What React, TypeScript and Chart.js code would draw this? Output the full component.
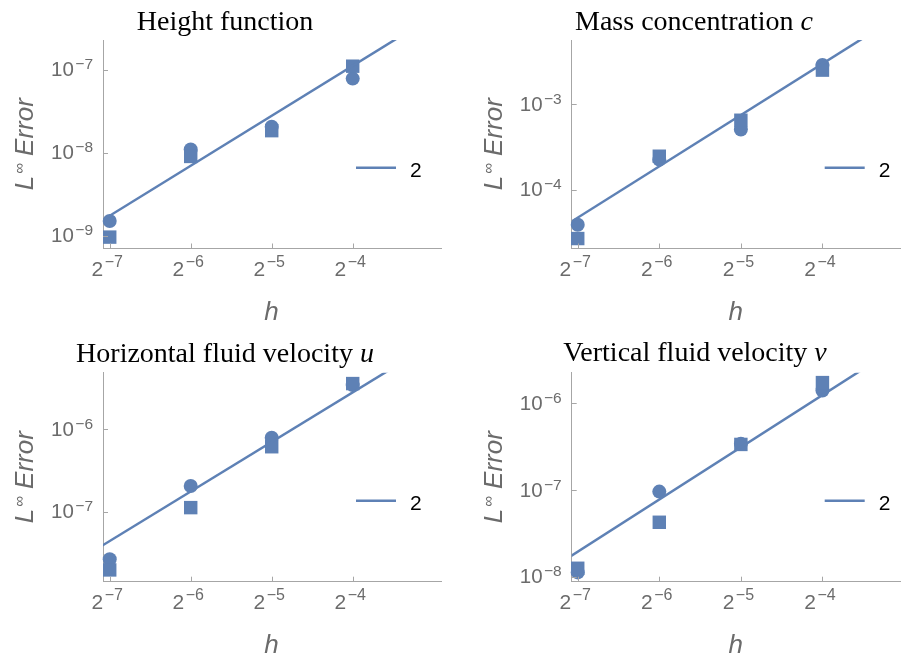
import React, { useEffect, useRef } from "react";
import { Chart, registerables } from "chart.js";

Chart.register(...registerables);

// ---------------- data ----------------
const H_VALUES = [0.0078125, 0.015625, 0.03125, 0.0625]; // h = 2^-7 .. 2^-4
const X_TICK_EXPONENTS = [-7, -6, -5, -4];
const FIT_LINE_H = [0.00729, 0.125];
const LEGEND_LABEL = "2";
const Y_LABEL_MAIN = "L";
const Y_LABEL_SUP = "\u221E";
const Y_LABEL_REST = " Error";
const X_LABEL = "h";

const TITLES = ["Height function", "Mass concentration ", "Horizontal fluid velocity ", "Vertical fluid velocity "];
const TITLE_VARS = ["", "c", "u", "v"];

const HEIGHT_CIRCLES = [1.5e-9, 1.09e-8, 2.05e-8, 7.8e-8];
const HEIGHT_SQUARES = [9.6e-10, 9.0e-9, 1.84e-8, 1.1e-7];
const HEIGHT_LINE = [1.514e-9, 4.45e-7];
const HEIGHT_Y_TICKS = [-9, -8, -7];

const MASS_CIRCLES = [3.87e-5, 2.25e-4, 5.08e-4, 2.9e-3];
const MASS_SQUARES = [2.67e-5, 2.47e-4, 6.53e-4, 2.53e-3];
const MASS_LINE = [4.09e-5, 1.203e-2];
const MASS_Y_TICKS = [-4, -3];

const HORIZ_CIRCLES = [2.64e-8, 2.05e-7, 7.9e-7, 3.45e-6];
const HORIZ_SQUARES = [1.96e-8, 1.12e-7, 6.15e-7, 3.6e-6];
const HORIZ_LINE = [3.83e-8, 1.125e-5];
const HORIZ_Y_TICKS = [-7, -6];

const VERT_CIRCLES = [1.12e-8, 9.57e-8, 3.4e-7, 1.4e-6];
const VERT_SQUARES = [1.25e-8, 4.24e-8, 3.35e-7, 1.73e-6];
const VERT_LINE = [1.69e-8, 4.97e-6];
const VERT_Y_TICKS = [-8, -7, -6];

const CIRCLES = [HEIGHT_CIRCLES, MASS_CIRCLES, HORIZ_CIRCLES, VERT_CIRCLES];
const SQUARES = [HEIGHT_SQUARES, MASS_SQUARES, HORIZ_SQUARES, VERT_SQUARES];
const LINES = [HEIGHT_LINE, MASS_LINE, HORIZ_LINE, VERT_LINE];
const Y_TICKS = [HEIGHT_Y_TICKS, MASS_Y_TICKS, HORIZ_Y_TICKS, VERT_Y_TICKS];

const X_RANGES = [
  [0.007376, 0.13305],
  [0.007422, 0.12184],
  [0.007376, 0.13305],
  [0.007422, 0.12184],
];
const Y_RANGES = [
  [7.31e-10, 2.275e-7],
  [2.04e-5, 5.71e-3],
  [1.41e-8, 4.88e-6],
  [8.75e-9, 2.25e-6],
];

// ---------------- layout & style ----------------
const LAYOUT = [
  { left: 0, top: 0, width: 450, height: 327, area: { l: 103, t: 40, r: 441, b: 248.5 }, titleX: 225, titleY: 30 },
  { left: 450, top: 0, width: 451, height: 327, area: { l: 121.7, t: 40, r: 451, b: 248.5 }, titleX: 244, titleY: 29.5 },
  { left: 0, top: 327, width: 450, height: 327, area: { l: 103, t: 45.7, r: 441, b: 254.7 }, titleX: 225, titleY: 34.5 },
  { left: 450, top: 327, width: 451, height: 327, area: { l: 121.7, t: 45.7, r: 451, b: 254.7 }, titleX: 245, titleY: 33.7 },
];

const BLUE = "#5E81B5";
const AXIS_COLOR = "#a6a6a6";
const LABEL_COLOR = "#6b6b6b";
const SANS = "'Liberation Sans', Arial, sans-serif";
const SERIF = "'Liberation Serif', 'Times New Roman', serif";

function drawPower(
  ctx: CanvasRenderingContext2D,
  base: string,
  exp: string,
  x: number,
  y: number,
  align: "center" | "right",
  raise: number,
  baseSize: number,
  expSize: number
) {
  const gap = 1.5;
  ctx.font = `${baseSize}px ${SANS}`;
  const bw = ctx.measureText(base).width;
  ctx.font = `${expSize}px ${SANS}`;
  const ew = ctx.measureText(exp).width;
  const total = bw + gap + ew;
  const start = align === "right" ? x - total : x - total / 2;
  ctx.textAlign = "left";
  ctx.textBaseline = "alphabetic";
  ctx.font = `${baseSize}px ${SANS}`;
  ctx.fillText(base, start, y);
  ctx.font = `${expSize}px ${SANS}`;
  ctx.fillText(exp, start + bw + gap, y - raise);
}

function expText(e: number) {
  return (e < 0 ? "\u2212" : "") + Math.abs(e);
}

function Panel({ index }: { index: number }) {
  const ref = useRef<HTMLCanvasElement | null>(null);
  const lay = LAYOUT[index];

  useEffect(() => {
    const canvas = ref.current;
    if (!canvas) return;

    const decor = {
      id: "decor" + index,
      afterDraw(chart: any) {
        const ctx: CanvasRenderingContext2D = chart.ctx;
        const ca = chart.chartArea;
        const xs = chart.scales.x;
        const ys = chart.scales.y;
        ctx.save();

        // inward ticks
        ctx.strokeStyle = AXIS_COLOR;
        ctx.lineWidth = 1;
        ctx.beginPath();
        H_VALUES.forEach((h) => {
          const px = Math.round(xs.getPixelForValue(h)) + 0.5;
          ctx.moveTo(px, ca.bottom);
          ctx.lineTo(px, ca.bottom - 5);
        });
        Y_TICKS[index].forEach((e) => {
          const py = Math.round(ys.getPixelForValue(Math.pow(10, e))) + 0.5;
          ctx.moveTo(ca.left, py);
          ctx.lineTo(ca.left + 5, py);
        });
        ctx.stroke();

        // tick labels
        ctx.fillStyle = LABEL_COLOR;
        H_VALUES.forEach((h, i) => {
          const px = xs.getPixelForValue(h);
          drawPower(ctx, "2", expText(X_TICK_EXPONENTS[i]), px - 2.5, ca.bottom + 27, "center", 8.3, 21, 16);
        });
        Y_TICKS[index].forEach((e) => {
          const py = ys.getPixelForValue(Math.pow(10, e));
          drawPower(ctx, "10", expText(e), ca.left - 10, py + 6.8, "right", 7, 20.5, 15.5);
        });

        // x axis label
        ctx.font = `italic 26px ${SANS}`;
        ctx.textAlign = "center";
        ctx.fillText(X_LABEL, (ca.left + ca.right) / 2 - 0.5, ca.bottom + 71);

        // y axis label (rotated)
        ctx.save();
        ctx.translate(ca.left - 70, (ca.top + ca.bottom) / 2);
        ctx.rotate(-Math.PI / 2);
        ctx.textAlign = "left";
        ctx.font = `italic 26px ${SANS}`;
        const wL = ctx.measureText(Y_LABEL_MAIN).width;
        const wR = ctx.measureText(Y_LABEL_REST).width;
        ctx.font = `15px ${SANS}`;
        const wS = ctx.measureText(Y_LABEL_SUP).width;
        const tot = wL + 2 + wS + wR;
        let sx = -tot / 2;
        ctx.font = `italic 26px ${SANS}`;
        ctx.fillText(Y_LABEL_MAIN, sx, 0);
        sx += wL + 2;
        ctx.font = `15px ${SANS}`;
        ctx.fillText(Y_LABEL_SUP, sx, -9);
        sx += wS;
        ctx.font = `italic 26px ${SANS}`;
        ctx.fillText(Y_LABEL_REST, sx, 0);
        ctx.restore();

        // legend
        const lx = ca.left + 253;
        const ly = (ca.top + ca.bottom) / 2 + 23.5;
        ctx.strokeStyle = BLUE;
        ctx.lineWidth = 2.5;
        ctx.beginPath();
        ctx.moveTo(lx, ly);
        ctx.lineTo(lx + 40, ly);
        ctx.stroke();
        ctx.fillStyle = "#000";
        ctx.font = `21px ${SANS}`;
        ctx.textAlign = "left";
        ctx.fillText(LEGEND_LABEL, lx + 54, ly + 9.2);

        // title
        ctx.fillStyle = "#000";
        ctx.font = `28px ${SERIF}`;
        const t1 = TITLES[index];
        const w1 = ctx.measureText(t1).width;
        ctx.font = `italic 28px ${SERIF}`;
        const t2 = TITLE_VARS[index];
        const w2 = t2 ? ctx.measureText(t2).width : 0;
        const tx = lay.titleX - (w1 + w2) / 2;
        ctx.textAlign = "left";
        ctx.font = `28px ${SERIF}`;
        ctx.fillText(t1, tx, lay.titleY);
        if (t2) {
          ctx.font = `italic 28px ${SERIF}`;
          ctx.fillText(t2, tx + w1, lay.titleY);
        }
        ctx.restore();
      },
    };

    const chart = new Chart(canvas, {
      type: "scatter",
      data: {
        datasets: [
          {
            type: "line",
            data: FIT_LINE_H.map((h, i) => ({ x: h, y: LINES[index][i] })),
            borderColor: BLUE,
            borderWidth: 2.5,
            pointRadius: 0,
            fill: false,
            clip: 0,
          } as any,
          {
            data: H_VALUES.map((h, i) => ({ x: h, y: SQUARES[index][i] })),
            pointStyle: "rect",
            pointRadius: 9.5,
            backgroundColor: BLUE,
            borderWidth: 0,
            clip: false,
          } as any,
          {
            data: H_VALUES.map((h, i) => ({ x: h, y: CIRCLES[index][i] })),
            pointStyle: "circle",
            pointRadius: 7,
            backgroundColor: BLUE,
            borderWidth: 0,
            clip: false,
          } as any,
        ],
      },
      options: {
        responsive: false,
        animation: false,
        devicePixelRatio: 1,
        events: [],
        layout: {
          autoPadding: false,
          padding: { top: lay.area.t, right: lay.width - lay.area.r, left: 0, bottom: 0 },
        },
        plugins: {
          legend: { display: false },
          title: { display: false },
          tooltip: { enabled: false },
        },
        scales: {
          x: {
            type: "logarithmic",
            min: X_RANGES[index][0],
            max: X_RANGES[index][1],
            grid: { display: false },
            border: { display: true, color: AXIS_COLOR, width: 1 },
            ticks: { display: false },
            afterFit: (s: any) => {
              s.height = lay.height - lay.area.b;
            },
          },
          y: {
            type: "logarithmic",
            min: Y_RANGES[index][0],
            max: Y_RANGES[index][1],
            grid: { display: false },
            border: { display: true, color: AXIS_COLOR, width: 1 },
            ticks: { display: false },
            afterFit: (s: any) => {
              s.width = lay.area.l;
            },
          },
        },
      } as any,
      plugins: [decor],
    });

    return () => chart.destroy();
  }, [index]);

  return (
    <canvas
      ref={ref}
      width={lay.width}
      height={lay.height}
      style={{ position: "absolute", left: lay.left, top: lay.top, width: lay.width, height: lay.height, display: "block" }}
    />
  );
}

export default function App() {
  return (
    <div style={{ position: "absolute", left: 0, top: 0, width: 901, height: 654, background: "#fff", overflow: "hidden" }}>
      {[0, 1, 2, 3].map((i) => (
        <Panel key={i} index={i} />
      ))}
    </div>
  );
}
